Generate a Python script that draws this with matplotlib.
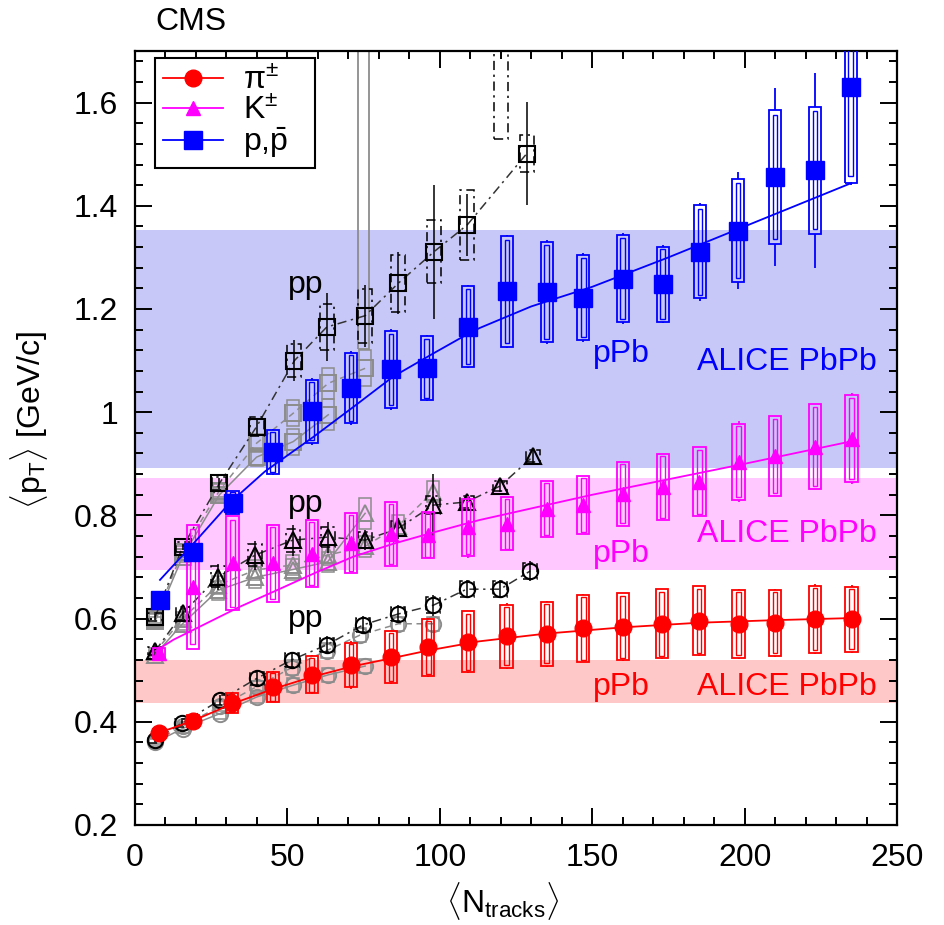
import numpy as np
import matplotlib.pyplot as plt
from matplotlib.patches import Rectangle
from matplotlib.lines import Line2D
from matplotlib.ticker import MultipleLocator, FuncFormatter

plt.rcParams['font.family'] = ['Liberation Sans', 'DejaVu Sans']
plt.rcParams['mathtext.fontset'] = 'custom'
plt.rcParams['mathtext.rm'] = 'Liberation Sans'
plt.rcParams['mathtext.it'] = 'Liberation Sans:italic'
plt.rcParams['mathtext.bf'] = 'Liberation Sans:bold'

# ---- pPb data (filled markers) ----
x_p = [8.2, 18.9, 32.0, 45.2, 58.0, 70.9, 84.0, 95.7, 109.2, 122.0, 135.1, 147.1, 160.0, 173.1, 185.4, 197.9, 210.0, 223.1, 234.8]
y_p = [0.636, 0.730, 0.825, 0.923, 1.002, 1.047, 1.083, 1.085, 1.166, 1.234, 1.233, 1.222, 1.259, 1.248, 1.311, 1.352, 1.456, 1.469, 1.631]
sys_p = [0.008, 0.012, 0.022, 0.042, 0.061, 0.068, 0.074, 0.062, 0.078, 0.107, 0.097, 0.083, 0.084, 0.073, 0.090, 0.099, 0.130, 0.123, 0.187]
stat_p = [0.006, 0.010, 0.020, 0.045, 0.065, 0.072, 0.078, 0.064, 0.081, 0.110, 0.100, 0.086, 0.088, 0.076, 0.095, 0.114, 0.172, 0.189, 0.190]

x_k = [8.0, 18.9, 32.0, 45.2, 58.0, 70.9, 84.0, 96.0, 109.2, 122.0, 135.1, 147.1, 160.0, 173.1, 185.2, 198.0, 210.0, 223.1, 235.1]
y_k = [0.533, 0.662, 0.707, 0.707, 0.726, 0.746, 0.764, 0.762, 0.777, 0.784, 0.813, 0.820, 0.842, 0.855, 0.865, 0.904, 0.915, 0.933, 0.949]
sys_k = [0.010, 0.120, 0.091, 0.075, 0.065, 0.058, 0.062, 0.045, 0.055, 0.052, 0.054, 0.057, 0.062, 0.064, 0.067, 0.074, 0.078, 0.082, 0.085]
stat_k = [0.008, 0.100, 0.085, 0.060, 0.060, 0.055, 0.058, 0.045, 0.060, 0.050, 0.052, 0.055, 0.060, 0.062, 0.065, 0.078, 0.075, 0.080, 0.088]

x_pi = [8.0, 18.9, 31.7, 45.2, 58.0, 70.9, 84.0, 96.2, 109.2, 121.9, 135.1, 147.1, 160.0, 172.8, 185.0, 198.0, 210.0, 223.1, 235.1]
y_pi = [0.379, 0.402, 0.437, 0.468, 0.491, 0.510, 0.526, 0.544, 0.555, 0.566, 0.571, 0.581, 0.584, 0.590, 0.596, 0.590, 0.592, 0.599, 0.599]
sys_pi = [0.008, 0.012, 0.019, 0.029, 0.036, 0.043, 0.050, 0.055, 0.059, 0.061, 0.062, 0.065, 0.065, 0.067, 0.067, 0.066, 0.064, 0.065, 0.063]
stat_pi = [0.006, 0.010, 0.018, 0.030, 0.038, 0.046, 0.052, 0.057, 0.060, 0.064, 0.064, 0.066, 0.066, 0.068, 0.068, 0.068, 0.066, 0.068, 0.066]

# fit curves through pPb
fit_p_x = [8.2, 19.1, 31.2, 42.6, 58.5, 71.6, 84.7, 97.9, 106.6, 113, 130, 150, 175, 200, 235]
fit_p_y = [0.675, 0.745, 0.825, 0.885, 0.952, 1.010, 1.069, 1.114, 1.143, 1.163, 1.205, 1.243, 1.300, 1.360, 1.444]
fit_k_x = [6.7, 12.6, 34.4, 45.4, 58.5, 71.6, 84.7, 97.9, 113, 150, 200, 237]
fit_k_y = [0.537, 0.559, 0.623, 0.652, 0.687, 0.720, 0.745, 0.767, 0.791, 0.840, 0.900, 0.946]
fit_pi_x = [8, 19, 32, 45, 58, 71, 84, 96, 113, 135, 160, 185, 210, 235]
fit_pi_y = [0.379, 0.402, 0.435, 0.463, 0.487, 0.507, 0.523, 0.538, 0.556, 0.571, 0.583, 0.592, 0.597, 0.601]

# ---- pp data (open markers) ----
# 7 TeV (black, dash-dot)
pp7_p_x = [6.6, 15.6, 27.7, 39.9, 52.3, 62.9, 75.5, 86.4, 98.1, 109.0, 128.5]
pp7_p_y = [0.603, 0.739, 0.862, 0.972, 1.100, 1.165, 1.187, 1.250, 1.311, 1.363, 1.501]
pp7_p_sys = [0.008, 0.010, 0.012, 0.018, 0.032, 0.044, 0.052, 0.055, 0.061, 0.068, 0.036]
pp7_p_stat = [0.005, 0.006, 0.010, 0.015, 0.039, 0.066, 0.060, 0.060, 0.130, 0.060, 0.100]
pp7_k_x = [6.6, 15.6, 27.3, 39.4, 51.7, 63.2, 75.5, 86.4, 97.9, 108.8, 119.8, 130.7]
pp7_k_y = [0.537, 0.610, 0.681, 0.723, 0.752, 0.758, 0.752, 0.775, 0.820, 0.826, 0.857, 0.915]
pp7_k_sys = [0.008, 0.012, 0.020, 0.022, 0.022, 0.020, 0.015, 0.015, 0.018, 0.012, 0.010, 0.012]
pp7_k_stat = [0.005, 0.010, 0.025, 0.028, 0.030, 0.030, 0.020, 0.020, 0.060, 0.015, 0.012, 0.015]
pp7_pi_x = [6.6, 15.3, 27.9, 39.9, 51.4, 62.9, 74.9, 86.4, 97.9, 108.8, 119.8, 129.6]
pp7_pi_y = [0.365, 0.397, 0.442, 0.484, 0.520, 0.549, 0.588, 0.609, 0.626, 0.657, 0.657, 0.692]
pp7_pi_sys = [0.006, 0.008, 0.010, 0.012, 0.014, 0.014, 0.014, 0.014, 0.015, 0.015, 0.015, 0.015]
pp7_pi_stat = [0.004, 0.006, 0.010, 0.014, 0.016, 0.018, 0.018, 0.018, 0.020, 0.018, 0.018, 0.020]
pp7_offscale_x = [120.0]
pp7_offscale_lo = [1.53]

# 2.76 TeV (gray, dashed)
pp2_p_x = [6.6, 15.6, 27.7, 39.9, 51.9, 63.4, 75.5]
pp2_p_y = [0.600, 0.730, 0.848, 0.940, 0.998, 1.056, 1.085]
pp2_p_sys = [0.008, 0.010, 0.012, 0.018, 0.025, 0.030, 0.035]
pp2_k_x = [6.6, 15.6, 27.3, 39.4, 51.7, 63.2, 75.5, 86.4, 97.9]
pp2_k_y = [0.535, 0.600, 0.665, 0.694, 0.704, 0.723, 0.740, 0.780, 0.846]
pp2_k_sys = [0.008, 0.012, 0.018, 0.020, 0.020, 0.020, 0.020, 0.020, 0.020]
pp2_pi_x = [6.6, 15.6, 27.9, 39.9, 51.4, 62.9, 73.8, 86.4, 97.9]
pp2_pi_y = [0.363, 0.392, 0.430, 0.468, 0.505, 0.538, 0.568, 0.590, 0.590]
pp2_pi_sys = [0.006, 0.008, 0.010, 0.012, 0.014, 0.014, 0.014, 0.014, 0.014]

# 0.9 TeV (gray, solid)
pp09_p_x = [6.6, 15.6, 27.7, 39.9, 51.9, 63.4]
pp09_p_y = [0.595, 0.720, 0.840, 0.913, 0.943, 0.995]
pp09_p_sys = [0.008, 0.010, 0.012, 0.018, 0.025, 0.030]
pp09_k_x = [6.6, 15.6, 27.3, 39.4, 51.7, 63.2, 75.5]
pp09_k_y = [0.530, 0.590, 0.655, 0.680, 0.695, 0.710, 0.804]
pp09_k_sys = [0.008, 0.012, 0.018, 0.020, 0.020, 0.020, 0.030]
pp09_pi_x = [6.6, 15.6, 27.9, 39.9, 51.9, 63.4, 75.5]
pp09_pi_y = [0.360, 0.387, 0.416, 0.448, 0.471, 0.491, 0.508]
pp09_pi_sys = [0.006, 0.008, 0.010, 0.012, 0.014, 0.014, 0.014]
pp09_offscale_x = [75.0]
pp09_offscale_lo = [1.122]

# ALICE PbPb bands (lo, hi)
band_p = (0.891, 1.353)
band_k = (0.695, 0.873)
band_pi = (0.436, 0.520)

BLUE = '#0000ff'
MAG = '#ff00ff'
RED = '#ff0000'
GRAY = '#8c8c8c'


def draw_boxes(ax, x, y, sys, color, ls='-', hw=2.0, inner=False, lw=1.3, z=3):
    for xi, yi, si in zip(x, y, sys):
        ax.add_patch(Rectangle((xi - hw, yi - si), 2 * hw, 2 * si, fill=False,
                               ec=color, lw=lw, ls=ls, zorder=z))
        if inner:
            s2 = si * 0.93
            ax.add_patch(Rectangle((xi - 0.75, yi - s2), 1.5, 2 * s2, fill=False,
                                   ec=color, lw=1.0, zorder=z))


def draw_stat(ax, x, y, stat, color, ls='-', lw=1.2, z=3, skip=None):
    # stat error line; when skip is given only the part outside the box is drawn
    for i, (xi, yi, si) in enumerate(zip(x, y, stat)):
        if skip is None:
            ax.vlines(xi, yi - si, yi + si, colors=color, lw=lw, linestyles=ls, zorder=z)
        elif si > skip[i]:
            ax.vlines(xi, yi + skip[i], yi + si, colors=color, lw=lw, zorder=z)
            ax.vlines(xi, yi - si, yi - skip[i], colors=color, lw=lw, zorder=z)


fig = plt.figure(figsize=(9.44, 9.25), dpi=100)
ax = fig.add_axes([135 / 944, 100 / 925, 762 / 944, 774 / 925])
ax.set_xlim(0, 250)
ax.set_ylim(0.2, 1.7)

ax.axhspan(*band_p, color='#c8c8f8', lw=0, zorder=0)
ax.axhspan(*band_k, color='#ffc8ff', lw=0, zorder=0)
ax.axhspan(*band_pi, color='#ffc8c8', lw=0, zorder=0)

dashdot = (0, (6, 3, 1.5, 3))

# pp 0.9 TeV
for xs, ys, ss, mk in [(pp09_p_x, pp09_p_y, pp09_p_sys, 's'),
                       (pp09_k_x, pp09_k_y, pp09_k_sys, '^'),
                       (pp09_pi_x, pp09_pi_y, pp09_pi_sys, 'o')]:
    ax.plot(xs, ys, color=GRAY, lw=1.1, ls='-', zorder=2)
    draw_boxes(ax, xs, ys, ss, GRAY, hw=2.0, lw=1.1, z=2)
    ax.plot(xs, ys, ls='none', marker=mk, ms=11, mfc='none', mec=GRAY, mew=1.4, zorder=2)
for xo, lo in zip(pp09_offscale_x, pp09_offscale_lo):
    ax.add_patch(Rectangle((xo - 1.9, lo), 3.8, 1.0, fill=False, ec=GRAY, lw=1.3, zorder=2))

# pp 2.76 TeV
for xs, ys, ss, mk in [(pp2_p_x, pp2_p_y, pp2_p_sys, 's'),
                       (pp2_k_x, pp2_k_y, pp2_k_sys, '^'),
                       (pp2_pi_x, pp2_pi_y, pp2_pi_sys, 'o')]:
    ax.plot(xs, ys, color=GRAY, lw=1.1, ls=(0, (4, 3)), zorder=2)
    draw_boxes(ax, xs, ys, ss, GRAY, hw=2.0, lw=1.1, z=2)
    ax.plot(xs, ys, ls='none', marker=mk, ms=11, mfc='none', mec=GRAY, mew=1.4, zorder=2)

# pp 7 TeV
for xs, ys, ss, st, mk in [(pp7_p_x, pp7_p_y, pp7_p_sys, pp7_p_stat, 's'),
                           (pp7_k_x, pp7_k_y, pp7_k_sys, pp7_k_stat, '^'),
                           (pp7_pi_x, pp7_pi_y, pp7_pi_sys, pp7_pi_stat, 'o')]:
    ax.plot(xs, ys, color='#333333', lw=1.1, ls=dashdot, zorder=2.5)
    draw_boxes(ax, xs, ys, ss, 'black', ls=dashdot, hw=2.3, lw=1.1, z=2.5)
    draw_stat(ax, xs, ys, st, 'black', lw=1.1, z=2.5)
    ax.plot(xs, ys, ls='none', marker=mk, ms=11, mfc='none', mec='black', mew=1.5, zorder=2.5)
for xo, lo in zip(pp7_offscale_x, pp7_offscale_lo):
    ax.add_patch(Rectangle((xo - 2.3, lo), 4.6, 1.0, fill=False, ec='black', lw=1.1,
                           ls=dashdot, zorder=2.5))

# pPb
for xs, ys, ss, st, fx, fy, col, mk, ms in [
        (x_pi, y_pi, sys_pi, stat_pi, fit_pi_x, fit_pi_y, RED, 'o', 12),
        (x_k, y_k, sys_k, stat_k, fit_k_x, fit_k_y, MAG, '^', 10),
        (x_p, y_p, sys_p, stat_p, fit_p_x, fit_p_y, BLUE, 's', 12.5)]:
    ax.plot(fx, fy, color=col, lw=1.3, zorder=4)
    draw_boxes(ax, xs, ys, ss, col, hw=2.0, inner=True, lw=1.3, z=4)
    draw_stat(ax, xs, ys, st, col, lw=1.3, z=4, skip=ss)
    ax.plot(xs, ys, ls='none', marker=mk, ms=ms, color=col, mec=col, zorder=5)

# labels inside the plot
fs = 23
ax.text(50.2, 1.231, 'pp', fontsize=fs, color='black', zorder=6)
ax.text(50.2, 0.807, 'pp', fontsize=fs, color='black', zorder=6)
ax.text(50.2, 0.584, 'pp', fontsize=fs, color='black', zorder=6)
ax.text(150.3, 1.097, 'pPb', fontsize=fs, color=BLUE, zorder=6)
ax.text(150.3, 0.710, 'pPb', fontsize=fs, color=MAG, zorder=6)
ax.text(150.3, 0.452, 'pPb', fontsize=fs, color=RED, zorder=6)
ax.text(243.4, 1.082, 'ALICE PbPb', fontsize=fs, color=BLUE, ha='right', zorder=6)
ax.text(243.4, 0.748, 'ALICE PbPb', fontsize=fs, color=MAG, ha='right', zorder=6)
ax.text(243.4, 0.452, 'ALICE PbPb', fontsize=fs, color=RED, ha='right', zorder=6)

# legend
handles = [Line2D([], [], color=RED, marker='o', ms=12, lw=1.3),
           Line2D([], [], color=MAG, marker='^', ms=10, lw=1.3),
           Line2D([], [], color=BLUE, marker='s', ms=12.5, lw=1.3)]
labels = [r'π$^{\pm}$', r'K$^{\pm}$', r'p,$\bar{\mathrm{p}}$   ']
leg = ax.legend(handles, labels, loc='upper left', bbox_to_anchor=(0.026, 0.991),
                fontsize=fs, frameon=True, fancybox=False, framealpha=1,
                edgecolor='black', borderaxespad=0, borderpad=0.25,
                handlelength=1.9, handletextpad=0.6, labelspacing=0.0)
leg.get_frame().set_linewidth(1.5)
leg.set_zorder(10)

# axes styling
ax.xaxis.set_major_locator(MultipleLocator(50))
ax.xaxis.set_minor_locator(MultipleLocator(10))
ax.yaxis.set_major_locator(MultipleLocator(0.2))
ax.yaxis.set_minor_locator(MultipleLocator(0.04))
ax.yaxis.set_major_formatter(FuncFormatter(lambda v, p: '%g' % round(v, 2)))
ax.tick_params(which='both', direction='in', top=True, right=True, width=1.4, labelsize=fs)
ax.tick_params(which='major', length=12)
ax.tick_params(which='minor', length=6)
ax.tick_params(axis='y', pad=12)
ax.tick_params(axis='x', pad=13)
for sp in ax.spines.values():
    sp.set_linewidth(1.6)

ax.set_xlabel(r'$\langle$N$_{\mathrm{tracks}}\rangle$', fontsize=fs)
ax.xaxis.set_label_coords(0.482, -0.071)
ax.set_ylabel(r'$\langle$p$_{\mathrm{T}}\rangle$ [GeV/c]', fontsize=fs)
ax.yaxis.set_label_coords(-0.112, 0.523)

fig.text(155 / 944, 1 - 30 / 925, 'CMS', fontsize=fs, va='baseline')

plt.savefig('out.png', dpi=100)
